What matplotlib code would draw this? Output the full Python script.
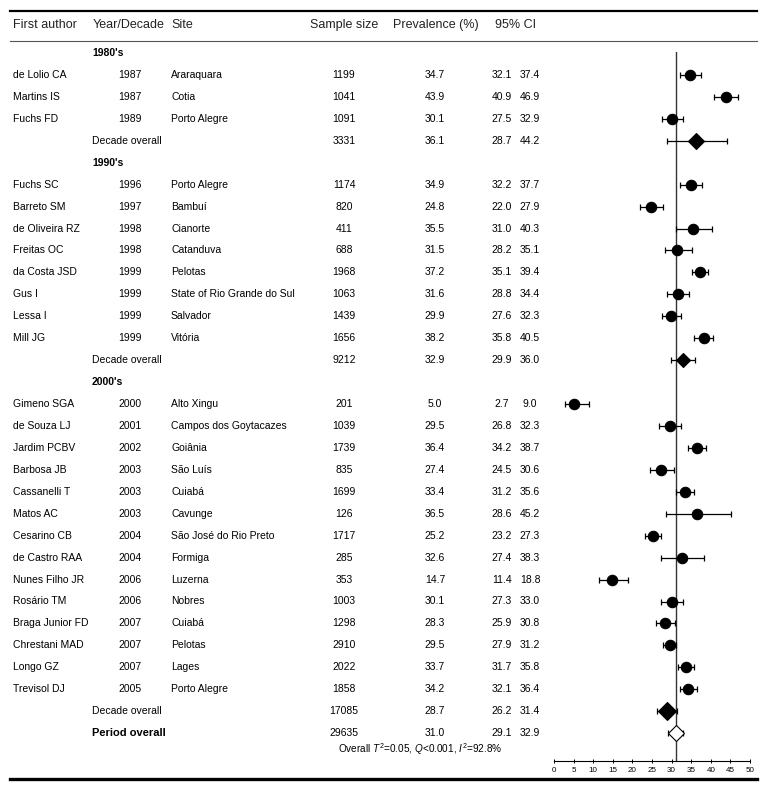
import matplotlib
matplotlib.use("Agg")
import matplotlib.pyplot as plt

plt.rcParams['font.family'] = ['Liberation Sans', 'DejaVu Sans']
plt.rcParams['mathtext.fontset'] = 'custom'
plt.rcParams['mathtext.it'] = 'Liberation Sans:italic'
plt.rcParams['mathtext.rm'] = 'Liberation Sans'

# %% data
decades = ["1980's", "1990's", "2000's"]
study_decade = [0, 0, 0,
                1, 1, 1, 1, 1, 1, 1, 1,
                2, 2, 2, 2, 2, 2, 2, 2, 2, 2, 2, 2, 2, 2]
authors = ["de Lolio CA", "Martins IS", "Fuchs FD",
           "Fuchs SC", "Barreto SM", "de Oliveira RZ", "Freitas OC", "da Costa JSD",
           "Gus I", "Lessa I", "Mill JG",
           "Gimeno SGA", "de Souza LJ", "Jardim PCBV", "Barbosa JB", "Cassanelli T",
           "Matos AC", "Cesarino CB", "de Castro RAA", "Nunes Filho JR", "Rosário TM",
           "Braga Junior FD", "Chrestani MAD", "Longo GZ", "Trevisol DJ"]
years = [1987, 1987, 1989,
         1996, 1997, 1998, 1998, 1999, 1999, 1999, 1999,
         2000, 2001, 2002, 2003, 2003, 2003, 2004, 2004, 2006, 2006, 2007, 2007, 2007, 2005]
sites = ["Araraquara", "Cotia", "Porto Alegre",
         "Porto Alegre", "Bambuí", "Cianorte", "Catanduva", "Pelotas",
         "State of Rio Grande do Sul", "Salvador", "Vitória",
         "Alto Xingu", "Campos dos Goytacazes", "Goiânia", "São Luís", "Cuiabá",
         "Cavunge", "São José do Rio Preto", "Formiga", "Luzerna", "Nobres",
         "Cuiabá", "Pelotas", "Lages", "Porto Alegre"]
sample = [1199, 1041, 1091,
          1174, 820, 411, 688, 1968, 1063, 1439, 1656,
          201, 1039, 1739, 835, 1699, 126, 1717, 285, 353, 1003, 1298, 2910, 2022, 1858]
prev = [34.7, 43.9, 30.1,
        34.9, 24.8, 35.5, 31.5, 37.2, 31.6, 29.9, 38.2,
        5.0, 29.5, 36.4, 27.4, 33.4, 36.5, 25.2, 32.6, 14.7, 30.1, 28.3, 29.5, 33.7, 34.2]
ci_lo = [32.1, 40.9, 27.5,
         32.2, 22.0, 31.0, 28.2, 35.1, 28.8, 27.6, 35.8,
         2.7, 26.8, 34.2, 24.5, 31.2, 28.6, 23.2, 27.4, 11.4, 27.3, 25.9, 27.9, 31.7, 32.1]
ci_hi = [37.4, 46.9, 32.9,
         37.7, 27.9, 40.3, 35.1, 39.4, 34.4, 32.3, 40.5,
         9.0, 32.3, 38.7, 30.6, 35.6, 45.2, 27.3, 38.3, 18.8, 33.0, 30.8, 31.2, 35.8, 36.4]

dec_n = [3331, 9212, 17085]
dec_prev = [36.1, 32.9, 28.7]
dec_lo = [28.7, 29.9, 26.2]
dec_hi = [44.2, 36.0, 31.4]

tot_n = 29635
tot_prev = 31.0
tot_lo = 29.1
tot_hi = 32.9

ref_line = 31.0
xticks = list(range(0, 55, 5))
stats_text = r"Overall $T^2$=0.05, $Q$<0.001, $I^2$=92.8%"

# %% build rows: (kind, index)
rows = []
for d in range(len(decades)):
    rows.append(("decade", d))
    for i, sd in enumerate(study_decade):
        if sd == d:
            rows.append(("study", i))
    rows.append(("dsum", d))
rows.append(("total", 0))

# %% figure
W, H = 764, 787
fig = plt.figure(figsize=(W / 100, H / 100), dpi=100)
tab = fig.add_axes([0, 0, 1, 1])
tab.set_xlim(0, W)
tab.set_ylim(H, 0)
tab.axis('off')

y0, dy = 53, 21.94
fs = 7.5

# horizontal rules
tab.plot([10, 757], [10.5, 10.5], color='black', lw=1.6)
tab.plot([10, 757], [41, 41], color='#555555', lw=0.8)
tab.plot([10, 757], [779, 779], color='black', lw=2.4)

hdr = dict(fontsize=9, va='center', color='#222222')
tab.text(13, 25, "First author", ha='left', **hdr)
tab.text(93, 25, "Year/Decade", ha='left', **hdr)
tab.text(171, 25, "Site", ha='left', **hdr)
tab.text(378, 25, "Sample size", ha='right', **hdr)
tab.text(393, 25, "Prevalence (%)", ha='left', **hdr)
tab.text(495, 25, "95% CI", ha='left', **hdr)

for r, (kind, i) in enumerate(rows):
    y = y0 + r * dy
    if kind == "decade":
        tab.text(92, y, decades[i], fontsize=fs, fontweight='bold', va='center')
        continue
    if kind == "study":
        tab.text(13, y, authors[i], fontsize=fs, va='center')
        tab.text(130, y, str(years[i]), fontsize=fs, va='center', ha='center')
        tab.text(171, y, sites[i], fontsize=fs, va='center')
        n, p, lo, hi = sample[i], prev[i], ci_lo[i], ci_hi[i]
    elif kind == "dsum":
        tab.text(92, y, "Decade overall", fontsize=fs, va='center')
        n, p, lo, hi = dec_n[i], dec_prev[i], dec_lo[i], dec_hi[i]
    else:
        tab.text(92, y, "Period overall", fontsize=8, fontweight='bold', va='center')
        n, p, lo, hi = tot_n, tot_prev, tot_lo, tot_hi
    tab.text(344, y, str(n), fontsize=fs, va='center', ha='center')
    tab.text(435, y, f"{p:.1f}", fontsize=fs, va='center', ha='center')
    tab.text(502, y, f"{lo:.1f}", fontsize=fs, va='center', ha='center')
    tab.text(530, y, f"{hi:.1f}", fontsize=fs, va='center', ha='center')

tab.text(338, 749, stats_text, fontsize=7.2, va='center', ha='left')

# %% forest panel
fx0, fx1 = 554, 750
fy_top, fy_bot = 52, 761
ax = fig.add_axes([fx0 / W, 1 - fy_bot / H, (fx1 - fx0) / W, (fy_bot - fy_top) / H])
ax.patch.set_alpha(0)
ax.set_xlim(0, 50)
ax.set_ylim((fy_bot - y0) / dy, (fy_top - y0) / dy)
for s in ['top', 'right', 'left']:
    ax.spines[s].set_visible(False)
ax.spines['bottom'].set_linewidth(0.8)
ax.set_yticks([])
ax.set_xticks(xticks)
ax.tick_params(axis='x', labelsize=5.8, length=3, width=0.7, direction='inout', pad=2.5)

ax.axvline(ref_line, color='#333333', lw=1)

for r, (kind, i) in enumerate(rows):
    if kind == "decade":
        continue
    if kind == "study":
        p, lo, hi = prev[i], ci_lo[i], ci_hi[i]
        mk, ms, fc = 'o', 7.5, 'black'
    elif kind == "dsum":
        p, lo, hi = dec_prev[i], dec_lo[i], dec_hi[i]
        mk, ms, fc = 'D', [8.4, 6.9, 8.8][i], 'black'
    else:
        p, lo, hi = tot_prev, tot_lo, tot_hi
        mk, ms, fc = 'D', 8.6, 'white'
    ax.errorbar([p], [r], xerr=[[p - lo], [hi - p]], fmt='none', ecolor='black',
                elinewidth=0.9, capsize=2.5, capthick=0.9, zorder=2)
    ax.plot([p], [r], marker=mk, markersize=ms, markerfacecolor=fc,
            markeredgecolor='black', markeredgewidth=0.8, linestyle='none', zorder=3)

fig.savefig("out.png", dpi=100)
